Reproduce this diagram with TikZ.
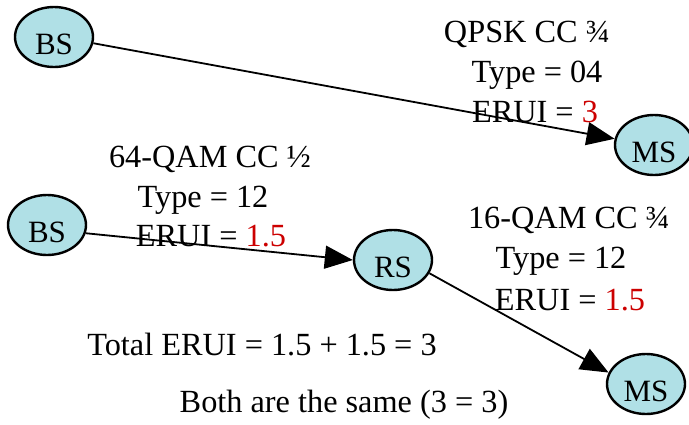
\documentclass[tikz,border=0pt]{standalone}
\usepackage{fontspec}
\setmainfont{Liberation Serif}
\usetikzlibrary{shapes.geometric,arrows.meta}
\definecolor{nodefill}{HTML}{B0E0E6}
\definecolor{erured}{RGB}{204,0,0}
\tikzset{
  station/.style={ellipse, draw=black, line width=2.4pt, fill=nodefill,
    minimum width=78pt, minimum height=60pt, inner sep=0pt,
    font=\fontsize{31}{31}\selectfont, text height=35pt, text depth=0pt},
  link/.style={line width=1.8pt, -{Triangle[length=28pt,width=23pt]}},
  lbl/.style={anchor=base, inner sep=0pt, font=\fontsize{32.3}{32.3}\selectfont},
}
\begin{document}
\begin{tikzpicture}[x=1pt,y=-1pt]
\useasboundingbox (0,0) rectangle (689,424);
% nodes
\node[station] (bs1) at (54,37) {BS};
\node[station] (ms1) at (654,145) {MS};
\node[station] (bs2) at (47,225) {BS};
\node[station] (rs) at (393,260) {RS};
\node[station] (ms2) at (646,384) {MS};
% connectors
\draw[link] (bs1.-9) -- (ms1.171);
\draw[link] (bs2.-12) -- (rs.west);
\draw[link] (rs.-20) -- (ms2.163);
% labels
\node[lbl] (l1a) at (527,42) {QPSK CC ¾};
\node[lbl] (l1b) at (537,82) {Type = 04};
\node[lbl] (l1c) at (535,122) {ERUI = \textcolor{erured}{3}};
\node[lbl] (l2a) at (210,167) {64-QAM CC ½};
\node[lbl] (l2b) at (203,207) {Type = 12};
\node[lbl] (l2c) at (211,246) {ERUI = \textcolor{erured}{1.5}};
\node[lbl] (l3a) at (569,228) {16-QAM CC ¾};
\node[lbl] (l3b) at (561,268) {Type = 12};
\node[lbl] (l3c) at (570,310) {ERUI = \textcolor{erured}{1.5}};
\node[lbl] (tot) at (262,355) {Total ERUI = 1.5 + 1.5 = 3};
\node[lbl] (both) at (344,412) {Both are the same (3 = 3)};
\end{tikzpicture}
\end{document}
